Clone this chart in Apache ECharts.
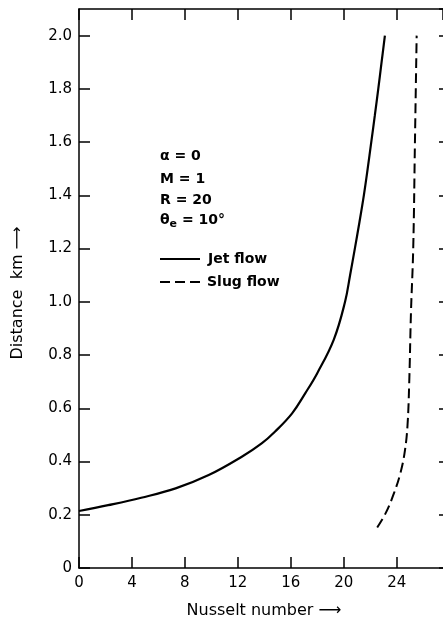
<!DOCTYPE html>
<html>
<head>
<meta charset="utf-8">
<script src="https://cdn.jsdelivr.net/npm/echarts@6/dist/echarts.min.js"></script>
<style>
html,body{margin:0;padding:0;background:#fff;}
#c{width:443px;height:619px;}
</style>
</head>
<body>
<div id="c"></div>
<script>
// Data
var jetX = [0, 2.2, 4.7, 7.3, 9.8, 12.3, 13.8, 14.8, 16.1, 17.1, 18.0, 19.25, 20.1, 20.48, 20.84, 21.19, 21.52, 21.81, 22.08, 22.35, 22.61, 22.86, 23.11];
var jetY = [0.214, 0.236, 0.264, 0.299, 0.349, 0.418, 0.468, 0.512, 0.581, 0.657, 0.732, 0.858, 1.0, 1.1, 1.2, 1.3, 1.4, 1.5, 1.6, 1.7, 1.8, 1.9, 2.0];
var slugX = [22.53, 23.16, 23.79, 24.3, 24.62, 24.82, 24.95, 25.08, 25.25, 25.38, 25.51];
var slugY = [0.152, 0.205, 0.28, 0.36, 0.44, 0.537, 0.7, 0.96, 1.2, 1.6, 2.0];
var seriesNames = ['Jet flow', 'Slug flow'];
var paramLines = ['α = 0', 'M = 1', 'R = 20'];
var xTitle = 'Nusselt number \u27F6';
var yTitle = 'Distance  km \u27F6';

function pairs(xs, ys) { return xs.map(function (x, i) { return [x, ys[i]]; }); }

var FONT = 'DejaVu Sans';
var chart = echarts.init(document.getElementById('c'), null, {renderer: 'canvas'});

var axisLineStyle = {onZero: false, lineStyle: {color: '#000', width: 1.5}};
var tickStyle = {show: true, inside: true, length: 11, lineStyle: {color: '#000', width: 1.5}};
var annFont = 'bold 14px ' + FONT;

chart.setOption({
  animation: false,
  backgroundColor: '#fff',
  grid: {left: 79, right: 0, top: 9, bottom: 51},
  xAxis: [{
    type: 'value', min: 0, max: 27.5, interval: 4, position: 'bottom',
    axisLine: axisLineStyle, axisTick: tickStyle, splitLine: {show: false},
    axisLabel: {fontFamily: FONT, fontSize: 15, color: '#000', margin: 8, showMaxLabel: false,
      formatter: function (v) { return v > 25 ? '' : String(v); }}
  }, {
    type: 'value', min: 0, max: 27.5, interval: 4, position: 'top',
    axisLine: axisLineStyle, axisTick: tickStyle, splitLine: {show: false}, axisLabel: {show: false}
  }],
  yAxis: [{
    type: 'value', min: 0, max: 2.1, interval: 0.2, position: 'left',
    axisLine: axisLineStyle, axisTick: tickStyle, splitLine: {show: false},
    axisLabel: {fontFamily: FONT, fontSize: 15, color: '#000', margin: 7, showMaxLabel: false,
      formatter: function (v) { return v > 2.05 ? '' : (v === 0 ? '0' : v.toFixed(1)); }}
  }, {
    type: 'value', min: 0, max: 2.1, interval: 0.2, position: 'right',
    axisLine: {show: false, onZero: false}, axisTick: {show: true, inside: true, length: 4, lineStyle: {color: '#000', width: 1.5}},
    splitLine: {show: false}, axisLabel: {show: false}
  }],
  series: [{
    name: seriesNames[0], type: 'line', data: pairs(jetX, jetY), symbol: 'none', smooth: 0.4,
    lineStyle: {color: '#000', width: 2.2}, itemStyle: {color: '#000'}
  }, {
    name: seriesNames[1], type: 'line', data: pairs(slugX, slugY), symbol: 'none', smooth: 0.4,
    lineStyle: {color: '#000', width: 2, type: [10, 5]}, itemStyle: {color: '#000'}
  }],
  graphic: [
    {type: 'text', left: 160, top: 149, style: {text: paramLines[0], font: annFont, fill: '#000'}},
    {type: 'text', left: 160, top: 172, style: {text: paramLines[1], font: annFont, fill: '#000'}},
    {type: 'text', left: 160, top: 193, style: {text: paramLines[2], font: annFont, fill: '#000'}},
    {type: 'text', left: 160, top: 213, style: {
      text: '{a|θ}{s|e}{a| = 10°}',
      rich: {a: {font: annFont, fill: '#000'}, s: {font: 'bold 11px ' + FONT, fill: '#000', padding: [8, 0, 0, 0]}}
    }},
    {type: 'line', shape: {x1: 160, y1: 259, x2: 200, y2: 259}, style: {stroke: '#000', lineWidth: 2}},
    {type: 'text', x: 208, y: 259, style: {text: seriesNames[0], font: annFont, fill: '#000', verticalAlign: 'middle'}},
    {type: 'line', shape: {x1: 160, y1: 282, x2: 200, y2: 282}, style: {stroke: '#000', lineWidth: 2, lineDash: [10, 5]}},
    {type: 'text', x: 207, y: 282, style: {text: seriesNames[1], font: annFont, fill: '#000', verticalAlign: 'middle'}},
    {type: 'text', x: 264, y: 611, style: {text: xTitle, font: '16px ' + FONT, fill: '#000', align: 'center', verticalAlign: 'middle'}},
    {type: 'text', x: 18, y: 293, rotation: Math.PI / 2, style: {text: yTitle, font: '16px ' + FONT, fill: '#000', align: 'center', verticalAlign: 'middle'}}
  ]
});
</script>
</body>
</html>
